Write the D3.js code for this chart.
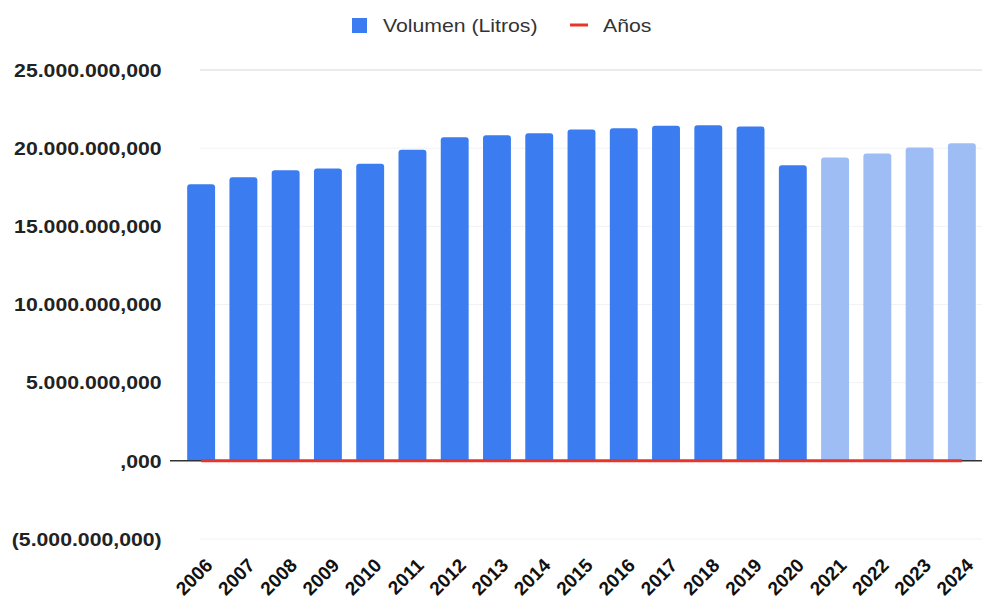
<!DOCTYPE html>
<html>
<head>
<meta charset="utf-8">
<script src="https://cdn.jsdelivr.net/npm/d3@7"></script>
<style>
  body { margin: 0; background: #fff; }
  svg { font-family: Arial, "Liberation Sans", sans-serif; }
</style>
</head>
<body>
<svg id="chart" width="982" height="604"></svg>
<script>
// data
var years = ["2006","2007","2008","2009","2010","2011","2012","2013","2014","2015",
             "2016","2017","2018","2019","2020","2021","2022","2023","2024"];
var volumen = [17.69e9, 18.14e9, 18.59e9, 18.70e9, 19.00e9, 19.90e9, 20.70e9, 20.83e9, 20.96e9, 21.20e9,
               21.28e9, 21.43e9, 21.47e9, 21.39e9, 18.91e9, 19.40e9, 19.66e9, 20.05e9, 20.32e9];
var anos = [2006,2007,2008,2009,2010,2011,2012,2013,2014,2015,2016,2017,2018,2019,2020,2021,2022,2023,2024];
var projected = ["2021","2022","2023","2024"];
var yTicks = [-5e9, 0, 5e9, 10e9, 15e9, 20e9, 25e9];
var yTickLabels = ["(5.000.000,000)", ",000", "5.000.000,000", "10.000.000,000",
                   "15.000.000,000", "20.000.000,000", "25.000.000,000"];

var svg = d3.select("#chart");

// the picture is a bit stretched sideways, so the text is too
var stretch = 1.18;

// scales
var x = d3.scaleBand()
  .domain(years)
  .range([180, 983])
  .paddingInner(0.34)
  .paddingOuter(0.17);

var y = d3.scaleLinear()
  .domain([-5e9, 25e9])
  .range([539, 70]);

// gridlines
svg.append("g")
  .selectAll("line")
  .data(yTicks)
  .enter().append("line")
  .attr("x1", 200)
  .attr("x2", 982)
  .attr("y1", function(d){ return y(d); })
  .attr("y2", function(d){ return y(d); })
  .style("stroke", function(d){ return d == 25e9 ? "#d6d6d6" : "#f2f2f2"; })
  .style("stroke-width", 1);

// y axis labels
var yAxis = d3.axisLeft(y)
  .tickValues(yTicks)
  .tickSize(0)
  .tickPadding(2)
  .tickFormat(function(d, i){ return yTickLabels[i]; });

svg.append("g")
  .attr("transform", "translate(164,0) scale(" + stretch + ",1)")
  .call(yAxis)
  .call(function(g){ g.select(".domain").remove(); })
  .selectAll("text")
  .attr("dy", "0.35em")
  .style("font-size", "18px")
  .style("font-weight", "bold")
  .style("fill", "#222");

// bars
svg.append("g")
  .selectAll("path")
  .data(volumen)
  .enter().append("path")
  .attr("d", function(d, i){
    var x0 = x(years[i]), w = x.bandwidth(), top = y(d), bot = y(0), r = 3;
    return "M" + x0 + "," + bot +
           "V" + (top + r) +
           "Q" + x0 + "," + top + " " + (x0 + r) + "," + top +
           "H" + (x0 + w - r) +
           "Q" + (x0 + w) + "," + top + " " + (x0 + w) + "," + (top + r) +
           "V" + bot + "Z";
  })
  .attr("fill", function(d, i){
    return projected.indexOf(years[i]) >= 0 ? "#9ebdf4" : "#3b7cf0";
  });

// zero baseline
svg.append("line")
  .attr("x1", 170)
  .attr("x2", 982)
  .attr("y1", y(0))
  .attr("y2", y(0))
  .style("stroke", "#333")
  .style("stroke-width", 1.5);

// "Años" series (tiny next to billions so it sits on zero)
var line = d3.line()
  .x(function(d, i){ return x(years[i]) + x.bandwidth() / 2; })
  .y(function(d){ return y(d); });

svg.append("path")
  .datum(anos)
  .attr("d", line)
  .attr("fill", "none")
  .style("stroke", "#e8352b")
  .style("stroke-width", 3);

// x axis labels
var xAxis = d3.axisBottom(x).tickSize(0);
svg.append("g")
  .attr("transform", "translate(0,548)")
  .call(xAxis)
  .call(function(g){ g.select(".domain").remove(); })
  .selectAll("text")
  .attr("text-anchor", "end")
  .attr("transform", "translate(1,7) rotate(-45)")
  .attr("dy", "0.7em")
  .style("font-size", "19px")
  .style("font-weight", "bold")
  .style("fill", "#111");

// legend
var legend = svg.append("g");
legend.append("rect")
  .attr("x", 352).attr("y", 18)
  .attr("width", 15).attr("height", 15)
  .attr("fill", "#3b7cf0");
legend.append("text")
  .attr("transform", "translate(383,32) scale(" + stretch + ",1)")
  .style("font-size", "18px")
  .style("fill", "#333")
  .text("Volumen (Litros)");
legend.append("line")
  .attr("x1", 570).attr("x2", 588)
  .attr("y1", 25).attr("y2", 25)
  .style("stroke", "#e8352b")
  .style("stroke-width", 3);
legend.append("text")
  .attr("transform", "translate(603,32) scale(" + stretch + ",1)")
  .style("font-size", "18px")
  .style("fill", "#333")
  .text("Años");
</script>
</body>
</html>
